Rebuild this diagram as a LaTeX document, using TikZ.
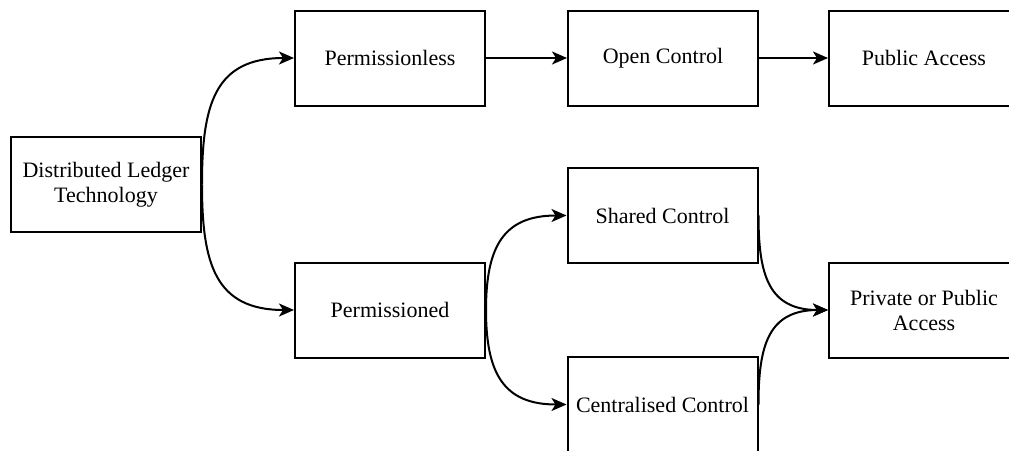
\documentclass[tikz,border=0pt]{standalone}
\usepackage{fontspec}
\setmainfont{Liberation Serif}
\newfontfamily\boxfont{Liberation Serif}
\usetikzlibrary{arrows.meta}

\tikzset{
  box/.style={draw, line width=2pt, minimum width=190pt, minimum height=95pt,
    align=center, font=\boxfont\fontsize{22}{25}\selectfont, inner sep=0pt},
  flow/.style={->, line width=2pt},
  bend up/.style={flow, out=90, in=180, looseness=1.3},
  bend down/.style={flow, out=-90, in=180, looseness=1.3}
}

\begin{document}
\begin{tikzpicture}[x=1pt, y=-1pt, >={Stealth[length=15pt, width=13pt, inset=4pt]}]

% Frame (the reference is cut off at the right and bottom)
\useasboundingbox (0,0) rectangle (1009,450);
\clip (0,0) rectangle (1009,450);

% Root
\node[box] (dlt) at (106,184.5) {Distributed Ledger\\Technology};

% Permissionless branch
\node[box] (pless) at (390,58) {Permissionless};
\node[box] (open) at (663,58) {Open Control};
\node[box] (pubacc) at (924,58) {Public Access};

% Permissioned branch
\node[box] (pned) at (390,310) {Permissioned};
\node[box] (shared) at (662.5,215.5) {Shared Control};
\node[box] (central) at (662.5,404.5) {Centralised Control};
\node[box] (privacc) at (924,310) {Private or Public\\Access};

% Connectors
\draw[bend up] (dlt.east) to (pless.west);
\draw[bend down] (dlt.east) to (pned.west);
\draw[flow] (pless) -- (open);
\draw[flow] (open) -- (pubacc);
\draw[bend up] (pned.east) to (shared.west);
\draw[bend down] (pned.east) to (central.west);
\draw[bend down] (shared.east) to (privacc.west);
\draw[bend up] (central.east) to (privacc.west);

\end{tikzpicture}
\end{document}
